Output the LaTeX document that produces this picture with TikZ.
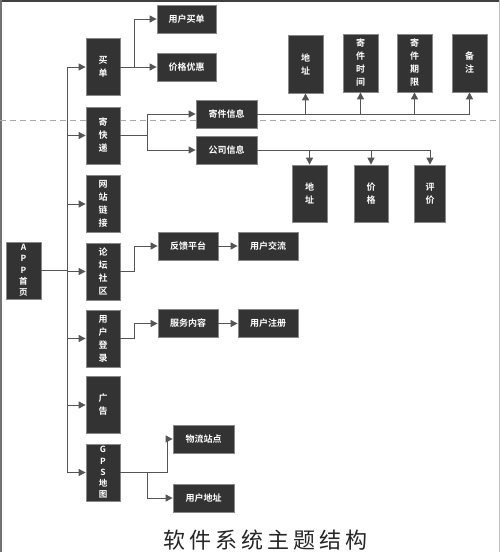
\documentclass[tikz,border=0pt]{standalone}
\usepackage{fontspec}
\usetikzlibrary{arrows.meta}
\newfontfamily\cjkb{Noto Sans CJK SC Bold}
\newfontfamily\cjkr{Noto Sans CJK SC}
\definecolor{boxc}{HTML}{333333}
\definecolor{boxb}{HTML}{888888}
\definecolor{linec}{HTML}{555555}
\definecolor{dashc}{HTML}{AAAAAA}
\tikzset{
  box/.style={fill=boxc, draw=boxb, line width=0.8pt, text=white, align=center, inner sep=0pt,
    font=\cjkb\fontsize{9}{13}\selectfont},
  vbox/.style={box, minimum width=34pt, minimum height=57pt},
  hbox/.style={box, minimum width=60pt, minimum height=28pt},
  ln/.style={draw=linec, line width=1pt},
  arr/.style={ln, -{Triangle[length=7pt,width=7pt]}},
}
\begin{document}
\begin{tikzpicture}[x=1pt,y=-1pt]
\useasboundingbox (0,0) rectangle (500,552);
\fill[white] (0,0) rectangle (500,552);
% frame
\fill[black!75] (0,0) rectangle (500,2);
\fill[black!55] (0,0) rectangle (1.5,552);
\fill[black!25] (498.5,0) rectangle (500,552);
% dashed separator
\draw[dashc, line width=0.8pt, dash pattern=on 6pt off 4pt] (0,120) -- (500,120);

% root
\node[box, minimum width=35pt, minimum height=57pt, font=\cjkb\fontsize{8.5}{11.3}\selectfont] (app) at (23.5,270.5) {A\\P\\P\\首\\页};

% column
\node[vbox] (maidan) at (103,67) {买\\单};
\node[vbox] (kuaidi) at (103,135.5) {寄\\快\\递};
\node[vbox] (wangzhan) at (103,204) {网\\站\\链\\接};
\node[vbox] (luntan) at (103,271.5) {论\\坛\\社\\区};
\node[vbox] (denglu) at (103,338.5) {用\\户\\登\\录};
\node[vbox] (guanggao) at (103,405) {广\\告};
\node[vbox, font=\cjkb\fontsize{8.5}{11.3}\selectfont] (gps) at (103,472.5) {G\\P\\S\\地\\图};

% second level
\node[hbox, minimum width=59pt] (yhmd) at (186.5,19) {用户买单};
\node[hbox, minimum width=59pt] (jgyh) at (186.5,67) {价格优惠};
\node[hbox, minimum width=61pt] (jjxx) at (226.5,114) {寄件信息};
\node[hbox, minimum width=61pt] (gsxx) at (226.5,150) {公司信息};
\node[hbox] (fkpt) at (188,246) {反馈平台};
\node[hbox] (yhjl) at (268,246) {用户交流};
\node[hbox] (fwnr) at (188,323.5) {服务内容};
\node[hbox] (yhzc) at (268,323.5) {用户注册};
\node[hbox, minimum width=61pt] (wlzd) at (203.5,439) {物流站点};
\node[hbox, minimum width=61pt] (yhdz) at (203.5,498) {用户地址};

% top boxes
\node[box, minimum width=35pt, minimum height=58pt] (dz1) at (305.5,64) {地\\址};
\node[box, minimum width=35pt, minimum height=58pt] (jjsj) at (360.5,63) {寄\\件\\时\\间};
\node[box, minimum width=35pt, minimum height=58pt] (jjqx) at (414.5,63) {寄\\件\\期\\限};
\node[box, minimum width=35pt, minimum height=58pt] (bz) at (469.5,63) {备\\注};

% bottom boxes
\node[box, minimum width=35pt, minimum height=57pt] (dz2) at (309.5,193.5) {地\\址};
\node[box, minimum width=34pt, minimum height=57pt] (jg) at (371,193.5) {价\\格};
\node[box, minimum width=31pt, minimum height=57pt] (pj) at (430,193.5) {评\\价};

% junction coordinates
\coordinate (t) at (67,0);
\coordinate (b1) at (134,0);
\coordinate (b2) at (147,0);
\coordinate (b3) at (167,0);

% trunk
\draw[ln] (app.east) -- (t |- app.east);
\draw[ln] (t |- maidan) -- (t |- gps);
\foreach \n in {maidan,kuaidi,wangzhan,luntan,denglu,guanggao,gps}
  \draw[arr] (t |- \n) -- (\n.west);

% 买单
\draw[ln] (maidan.east) -- (b1 |- maidan);
\draw[arr] (b1 |- maidan) |- (yhmd.west);
\draw[arr] (b1 |- maidan) -- (jgyh.west);

% 寄快递
\draw[ln] (kuaidi.east) -- (b2 |- kuaidi);
\draw[arr] (b2 |- kuaidi) |- (jjxx.west);
\draw[arr] (b2 |- kuaidi) |- (gsxx.west);

% 寄件信息
\draw[ln] (jjxx.east) -- (bz.center |- jjxx.east);
\foreach \n in {dz1,jjsj,jjqx,bz}
  \draw[arr] (\n.center |- jjxx.east) -- (\n.south);

% 公司信息
\draw[ln] (gsxx.east) -- (pj.center |- gsxx.east);
\foreach \n in {dz2,jg,pj}
  \draw[arr] (\n.center |- gsxx.east) -- (\n.north);

% 论坛社区
\draw[arr] (luntan.east) -- (b1 |- luntan) |- (fkpt.west);
\draw[arr] (fkpt.east) -- (yhjl.west);

% 用户登录
\draw[arr] (denglu.east) -- (b1 |- denglu) |- (fwnr.west);
\draw[arr] (fwnr.east) -- (yhzc.west);

% GPS地图
\draw[ln] (gps.east) -- (b3 |- gps);
\draw[arr] (b3 |- gps) |- (wlzd.west);
\draw[arr] (b2 |- gps) |- (yhdz.west);

% title
\node[font=\cjkr\addfontfeature{LetterSpace=18}\fontsize{22}{26}\selectfont, text=black!85] (title) at (265.5,540) {软件系统主题结构};
\end{tikzpicture}
\end{document}
